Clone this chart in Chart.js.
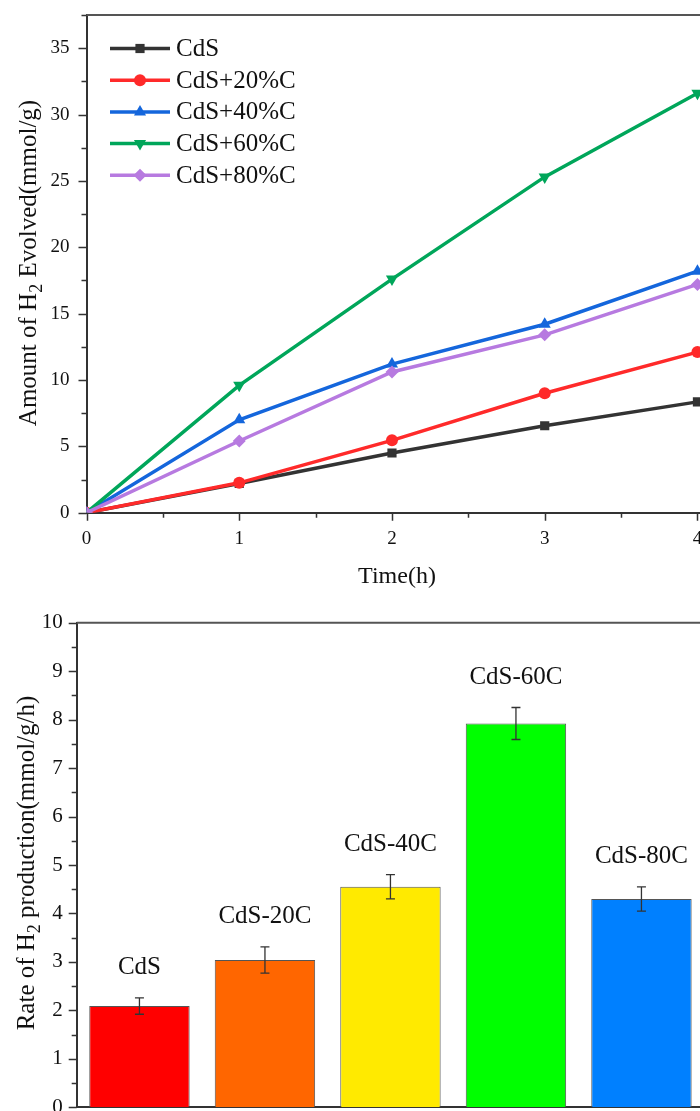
<!DOCTYPE html>
<html>
<head>
<meta charset="utf-8">
<script src="https://cdn.jsdelivr.net/npm/chart.js@4.4.1/dist/chart.umd.min.js"></script>
<style>
    html, body { margin: 0; padding: 0; background: #fff; width: 700px; height: 1111px; overflow: hidden; }
    #lineChart { position: absolute; left: 0; top: 0; }
    #barChart { position: absolute; left: 0; top: 600px; }
</style>
</head>
<body>
<canvas id="lineChart" width="740" height="600"></canvas>
<canvas id="barChart" width="720" height="520"></canvas>
<script>
// --- data: top panel (H2 evolved vs time) ---
const times = [0, 1, 2, 3, 4];
const seriesNames = ['CdS', 'CdS+20%C', 'CdS+40%C', 'CdS+60%C', 'CdS+80%C'];
const cdsAmount = [0, 2.2, 4.5, 6.55, 8.35];
const cds20Amount = [0, 2.25, 5.45, 9.0, 12.1];
const cds40Amount = [0, 7.0, 11.2, 14.2, 18.2];
const cds60Amount = [0, 9.6, 17.6, 25.3, 31.6];
const cds80Amount = [0, 5.4, 10.6, 13.4, 17.2];

// --- data: bottom panel (rate) ---
const sampleNames = ['CdS', 'CdS-20C', 'CdS-40C', 'CdS-60C', 'CdS-80C'];
const rates = [2.09, 3.04, 4.55, 7.92, 4.3];
const rateErrors = [0.17, 0.27, 0.25, 0.33, 0.25];

const serif = "'Liberation Serif', 'Times New Roman', serif";
const axisColor = '#333';
const lineColors = ['#333333', '#ff2a2a', '#1466dc', '#00a65a', '#b77ae0'];
const markers = [
    { style: 'rect', r: 6.5, rot: 0 },
    { style: 'circle', r: 6, rot: 0 },
    { style: 'triangle', r: 7, rot: 0 },
    { style: 'triangle', r: 7, rot: 180 },
    { style: 'rectRot', r: 6.5, rot: 0 }
];
const barColors = ['#ff0000', '#ff6600', '#ffea00', '#00ff00', '#0080ff'];

function drawMarker(ctx, m, x, y, color) {
    ctx.save();
    ctx.fillStyle = color;
    ctx.translate(x, y);
    ctx.rotate(m.rot * Math.PI / 180);
    ctx.beginPath();
    if (m.style === 'circle') {
        ctx.arc(0, 0, m.r, 0, Math.PI * 2);
    } else if (m.style === 'rect') {
        const s = m.r * Math.SQRT1_2;
        ctx.rect(-s, -s, 2 * s, 2 * s);
    } else if (m.style === 'triangle') {
        for (let k = 0; k < 3; k++) {
            const a = k * 2 * Math.PI / 3;
            ctx.lineTo(Math.sin(a) * m.r, -Math.cos(a) * m.r);
        }
        ctx.closePath();
    } else {
        ctx.moveTo(0, -m.r); ctx.lineTo(m.r, 0); ctx.lineTo(0, m.r); ctx.lineTo(-m.r, 0);
        ctx.closePath();
    }
    ctx.fill();
    ctx.restore();
}

// fixed box size, no extra label padding pushed into the layout
function fixBox(prop, size) {
    return s => {
        s[prop] = size;
        s.paddingTop = 0; s.paddingBottom = 0; s.paddingLeft = 0; s.paddingRight = 0;
    };
}

// ticks pointing out of the plot, major + minor
function drawAxisTicks(chart, ySteps, xSteps) {
    const ctx = chart.ctx, a = chart.chartArea;
    const ys = chart.scales.y, xs = chart.scales.x;
    ctx.save();
    ctx.strokeStyle = axisColor;
    ctx.lineWidth = 1.5;
    ctx.beginPath();
    for (let v = ys.min; v <= ys.max + 1e-9; v += ySteps[1]) {
        const major = Math.abs(v / ySteps[0] - Math.round(v / ySteps[0])) < 1e-6;
        const py = Math.round(ys.getPixelForValue(v)) + 0.5;
        ctx.moveTo(a.left - (major ? 8 : 5), py);
        ctx.lineTo(a.left, py);
    }
    if (xSteps) {
        for (let v = xs.min; v <= xs.max + 1e-9; v += xSteps[1]) {
            const major = Math.abs(v / xSteps[0] - Math.round(v / xSteps[0])) < 1e-6;
            const px = Math.round(xs.getPixelForValue(v)) + 0.5;
            ctx.moveTo(px, a.bottom);
            ctx.lineTo(px, a.bottom + (major ? 8 : 5));
        }
    }
    ctx.stroke();
    // frame top + right
    ctx.strokeStyle = '#555';
    ctx.lineWidth = 2;
    ctx.beginPath();
    ctx.moveTo(a.left, a.top);
    ctx.lineTo(a.right, a.top);
    ctx.lineTo(a.right, a.bottom);
    ctx.stroke();
    ctx.restore();
}

// rotated title with a subscript "2"
function drawRotatedTitle(ctx, cx, cy, before, sub, after, size) {
    ctx.save();
    ctx.fillStyle = '#111';
    ctx.textBaseline = 'alphabetic';
    ctx.translate(cx, cy);
    ctx.rotate(-Math.PI / 2);
    const big = size + 'px ' + serif, small = Math.round(size * 0.7) + 'px ' + serif;
    ctx.font = big;
    const w1 = ctx.measureText(before).width, w3 = ctx.measureText(after).width;
    ctx.font = small;
    const w2 = ctx.measureText(sub).width;
    let x = -(w1 + w2 + w3) / 2;
    const base = size * 0.33;
    ctx.font = big; ctx.fillText(before, x, base); x += w1;
    ctx.font = small; ctx.fillText(sub, x, base + size * 0.22); x += w2;
    ctx.font = big; ctx.fillText(after, x, base);
    ctx.restore();
}

const amountSeries = [cdsAmount, cds20Amount, cds40Amount, cds60Amount, cds80Amount];

const lineDecor = {
    id: 'lineDecor',
    afterDatasetsDraw(chart) {
        const ctx = chart.ctx;
        drawAxisTicks(chart, [5, 2.5], [1, 0.5]);
        // legend inside the plot
        ctx.save();
        seriesNames.forEach((name, i) => {
            const y = 48.5 + i * 31.7;
            ctx.strokeStyle = lineColors[i];
            ctx.lineWidth = 3.5;
            ctx.beginPath();
            ctx.moveTo(110, y); ctx.lineTo(170, y);
            ctx.stroke();
            drawMarker(ctx, markers[i], 140, y, lineColors[i]);
            ctx.fillStyle = '#111';
            ctx.font = '25px ' + serif;
            ctx.textBaseline = 'middle';
            ctx.textAlign = 'left';
            ctx.fillText(name, 176, y + 1);
        });
        ctx.font = '24px ' + serif;
        ctx.textAlign = 'center';
        ctx.textBaseline = 'middle';
        ctx.fillText('Time(h)', 397, 577);
        ctx.restore();
        drawRotatedTitle(ctx, 28, 263, 'Amount of H', '2', ' Evolved(mmol/g)', 25);
    }
};

new Chart(document.getElementById('lineChart'), {
    type: 'line',
    data: {
        datasets: seriesNames.map((name, i) => ({
            label: name,
            data: times.map((t, k) => ({ x: t, y: amountSeries[i][k] })),
            borderColor: lineColors[i],
            backgroundColor: lineColors[i],
            borderWidth: 3.5,
            pointStyle: markers[i].style,
            pointRotation: markers[i].rot,
            pointRadius: markers[i].r,
            pointBorderWidth: 0,
            tension: 0,
            order: seriesNames.length - i
        }))
    },
    options: {
        responsive: false,
        animation: false,
        events: [],
        layout: { padding: { left: 0, top: 15, right: 12, bottom: 0 } },
        plugins: { legend: { display: false }, tooltip: { enabled: false } },
        scales: {
            x: {
                type: 'linear', min: 0, max: 4.2,
                grid: { display: false, drawTicks: false },
                border: { display: true, color: axisColor, width: 2 },
                ticks: { stepSize: 1, includeBounds: false, padding: 15, color: '#111', font: { family: serif, size: 19 } },
                afterFit: fixBox('height', 87.3)
            },
            y: {
                min: 0, max: 37.5,
                grid: { display: false, drawTicks: false },
                border: { display: true, color: axisColor, width: 2 },
                ticks: { stepSize: 5, includeBounds: false, padding: 17, color: '#111', font: { family: serif, size: 19 } },
                afterFit: fixBox('width', 86.5)
            }
        }
    },
    plugins: [lineDecor]
});

const barDecor = {
    id: 'barDecor',
    afterDatasetsDraw(chart) {
        const ctx = chart.ctx;
        const ys = chart.scales.y;
        const bars = chart.getDatasetMeta(0).data;
        ctx.save();
        bars.forEach((bar, i) => {
            const top = ys.getPixelForValue(rates[i] + rateErrors[i]);
            const low = ys.getPixelForValue(rates[i] - rateErrors[i]);
            ctx.strokeStyle = '#333';
            ctx.lineWidth = 1.3;
            ctx.beginPath();
            ctx.moveTo(bar.x, top); ctx.lineTo(bar.x, low);
            ctx.moveTo(bar.x - 4.5, top); ctx.lineTo(bar.x + 4.5, top);
            ctx.moveTo(bar.x - 4.5, low); ctx.lineTo(bar.x + 4.5, low);
            ctx.stroke();
            ctx.fillStyle = '#111';
            ctx.font = '25px ' + serif;
            ctx.textAlign = 'center';
            ctx.textBaseline = 'middle';
            ctx.fillText(sampleNames[i], bar.x, top - 30);
        });
        ctx.restore();
        drawAxisTicks(chart, [1, 0.5], null);
        drawRotatedTitle(ctx, 26, 263, 'Rate of H', '2', ' production(mmol/g/h)', 25);
    }
};

new Chart(document.getElementById('barChart'), {
    type: 'bar',
    data: {
        labels: sampleNames,
        datasets: [{
            data: rates,
            backgroundColor: barColors,
            borderColor: '#555',
            borderWidth: 1,
            categoryPercentage: 0.8,
            barPercentage: 1.0
        }]
    },
    options: {
        responsive: false,
        animation: false,
        events: [],
        layout: { padding: { left: 0, top: 22.7, right: 15.8, bottom: 0 } },
        plugins: { legend: { display: false }, tooltip: { enabled: false } },
        scales: {
            x: {
                grid: { display: false, drawTicks: false },
                border: { display: true, color: axisColor, width: 2 },
                ticks: { display: false },
                afterFit: fixBox('height', 12.7)
            },
            y: {
                min: 0, max: 10,
                grid: { display: false, drawTicks: false },
                border: { display: true, color: axisColor, width: 2 },
                ticks: { stepSize: 1, padding: 14, color: '#111', font: { family: serif, size: 21 } },
                afterFit: fixBox('width', 76.7)
            }
        }
    },
    plugins: [barDecor]
});
</script>
</body>
</html>
